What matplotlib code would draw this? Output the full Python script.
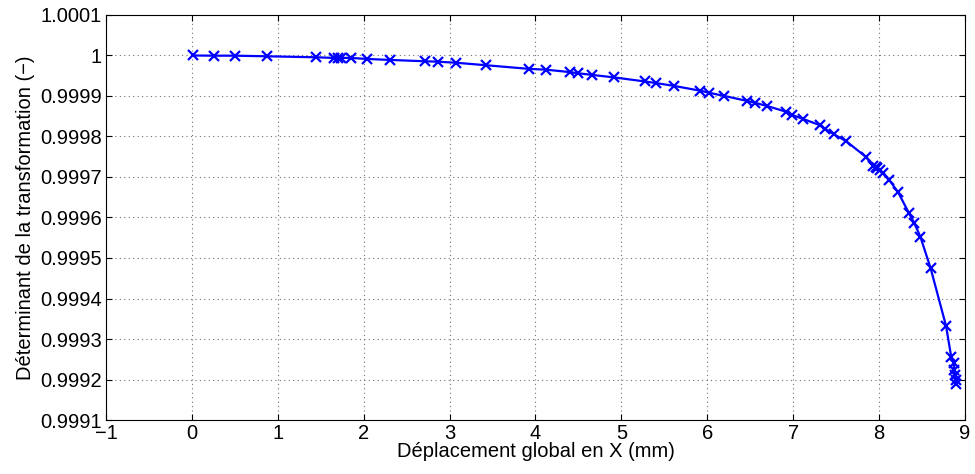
import numpy as np
import matplotlib.pyplot as plt

# values
depl_x = [0.01, 0.26, 0.50, 0.87, 1.44, 1.65, 1.70, 1.74, 1.85, 2.04, 2.31,
          2.71, 2.86, 3.08, 3.42, 3.92, 4.12, 4.40, 4.50, 4.66, 4.91, 5.27,
          5.40, 5.61, 5.92, 6.02, 6.20, 6.46, 6.56, 6.70, 6.92, 6.99, 7.12,
          7.31, 7.37, 7.47, 7.62, 7.85, 7.93, 7.96, 7.98, 8.01, 8.05, 8.12,
          8.22, 8.35, 8.41, 8.48, 8.60, 8.78, 8.84, 8.87, 8.875, 8.88, 8.89,
          8.895]
det_f = [1.000000, 0.9999995, 0.9999995, 0.999998, 0.9999956, 0.999994,
         0.999994, 0.999994, 0.999994, 0.9999914, 0.999989, 0.9999857,
         0.9999847, 0.999982, 0.999976, 0.999967, 0.999965, 0.999959,
         0.999956, 0.999952, 0.999946, 0.999936, 0.999932, 0.999925,
         0.999913, 0.999908, 0.999900, 0.999888, 0.999883, 0.999875,
         0.999861, 0.999853, 0.999843, 0.999828, 0.999819, 0.999806,
         0.999788, 0.999749, 0.999727, 0.999725, 0.999721, 0.999717,
         0.999709, 0.999692, 0.999663, 0.999610, 0.999586, 0.999553,
         0.999475, 0.999332, 0.999256, 0.999240, 0.999223, 0.999211,
         0.999198, 0.999190]

xticks = np.arange(-1, 10, 1)
yticks = np.round(np.arange(0.9991, 1.00011, 0.0001), 4)
ytick_labels = ["0.9991", "0.9992", "0.9993", "0.9994", "0.9995", "0.9996",
                "0.9997", "0.9998", "0.9999", "1", "1.0001"]

plt.rcParams['font.family'] = ['Liberation Sans', 'DejaVu Sans']
fontsize = 14.5

fig = plt.figure(figsize=(9.75, 4.74), dpi=100)
ax = fig.add_axes([0.1087, 0.1139, 0.8810, 0.8545])

ax.plot(depl_x, det_f, color="blue", linewidth=1.6, marker="x",
        markersize=7, markeredgewidth=1.6)

ax.set_xlim(-1, 9)
ax.set_ylim(0.9991, 1.0001)
ax.set_xticks(xticks)
ax.set_xticklabels([str(t).replace("-", "\u2212") for t in xticks], fontsize=fontsize)
ax.set_yticks(yticks)
ax.set_yticklabels(ytick_labels, fontsize=fontsize)
ax.tick_params(direction="in", top=True, right=True, length=4)
ax.tick_params(axis="x", pad=3)
ax.tick_params(axis="y", pad=3)
ax.grid(True, linestyle=(0, (1, 3)), color="0.45", linewidth=0.8)
for s in ax.spines.values():
    s.set_linewidth(0.8)

ax.set_xlabel("Déplacement global en X (mm)", fontsize=fontsize, labelpad=-1)
ax.set_ylabel("Déterminant de la transformation (\u2212)", fontsize=fontsize, labelpad=4)

plt.savefig("out.png", dpi=100)
